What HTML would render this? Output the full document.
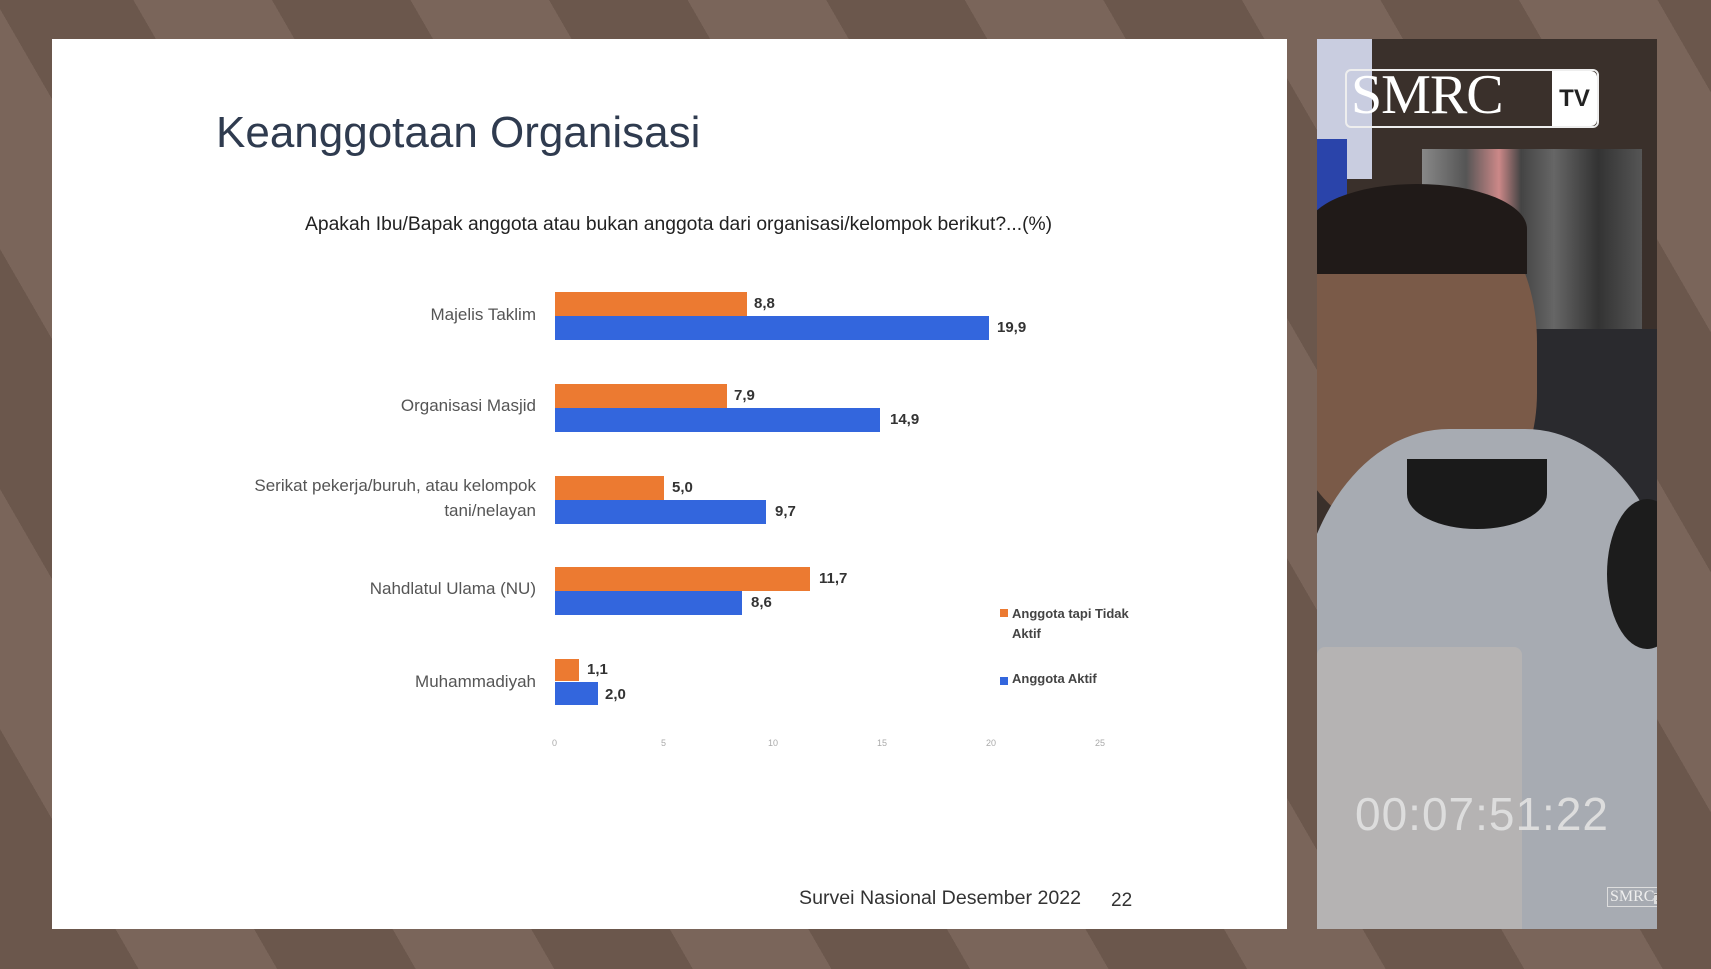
<!DOCTYPE html>
<html><head><meta charset="utf-8"><style>
body{margin:0;width:1711px;height:969px;overflow:hidden;background:#6b574c;font-family:"Liberation Sans",sans-serif;position:relative}
.abs{position:absolute}
.lbl{position:absolute;right:1175px;color:#555;font-size:17px;text-align:right;line-height:25px}
.bar{position:absolute;left:555px;height:24px}
.o{background:#ec7a31}.b{background:#3366dd}
.v{position:absolute;font-size:15px;font-weight:bold;color:#333}
.t{position:absolute;top:738px;font-size:9px;color:#aaa}
</style></head><body>
<div class="abs" style="left:0;top:0;width:1711px;height:969px;background:repeating-linear-gradient(60deg,#6b574c 0 120px,#7a655a 120px 240px)"></div>
<div class="abs" style="left:52px;top:39px;width:1235px;height:890px;background:#fff"></div>
<div class="abs" style="left:216px;top:108px;font-size:44px;color:#2f3b4f">Keanggotaan Organisasi</div>
<div class="abs" style="left:305px;top:214px;font-size:19.3px;color:#222">Apakah Ibu/Bapak anggota atau bukan anggota dari organisasi/kelompok berikut?...(%)</div>

<div class="lbl" style="top:302px">Majelis Taklim</div>
<div class="lbl" style="top:393px">Organisasi Masjid</div>
<div class="lbl" style="top:473px">Serikat pekerja/buruh, atau kelompok<br>tani/nelayan</div>
<div class="lbl" style="top:576px">Nahdlatul Ulama (NU)</div>
<div class="lbl" style="top:669px">Muhammadiyah</div>

<div class="bar o" style="top:292px;width:192px"></div><div class="v" style="left:754px;top:295px">8,8</div>
<div class="bar b" style="top:316px;width:434px"></div><div class="v" style="left:997px;top:319px">19,9</div>
<div class="bar o" style="top:384px;width:172px"></div><div class="v" style="left:734px;top:387px">7,9</div>
<div class="bar b" style="top:408px;width:325px"></div><div class="v" style="left:890px;top:411px">14,9</div>
<div class="bar o" style="top:476px;width:109px"></div><div class="v" style="left:672px;top:479px">5,0</div>
<div class="bar b" style="top:500px;width:211px"></div><div class="v" style="left:775px;top:503px">9,7</div>
<div class="bar o" style="top:567px;width:255px"></div><div class="v" style="left:819px;top:570px">11,7</div>
<div class="bar b" style="top:591px;width:187px"></div><div class="v" style="left:751px;top:594px">8,6</div>
<div class="bar o" style="top:659px;width:24px;height:22px"></div><div class="v" style="left:587px;top:661px">1,1</div>
<div class="bar b" style="top:682px;width:43px;height:23px"></div><div class="v" style="left:605px;top:686px">2,0</div>

<div class="t" style="left:552px">0</div><div class="t" style="left:661px">5</div><div class="t" style="left:768px">10</div>
<div class="t" style="left:877px">15</div><div class="t" style="left:986px">20</div><div class="t" style="left:1095px">25</div>

<div class="abs" style="left:1000px;top:609px;width:8px;height:8px;background:#ec7a31"></div>
<div class="abs" style="left:1012px;top:604px;font-size:13px;color:#444;font-weight:bold;line-height:20px">Anggota tapi Tidak<br>Aktif</div>
<div class="abs" style="left:1000px;top:677px;width:8px;height:8px;background:#3366dd"></div>
<div class="abs" style="left:1012px;top:671px;font-size:13px;color:#444;font-weight:bold">Anggota Aktif</div>

<div class="abs" style="left:799px;top:887px;font-size:19.6px;color:#333">Survei Nasional Desember 2022</div>
<div class="abs" style="left:1111px;top:890px;font-size:19px;color:#333">22</div>

<!-- video panel -->
<div class="abs" style="left:1317px;top:39px;width:340px;height:890px;background:#3a302b;overflow:hidden">
 <div class="abs" style="left:0;top:0;width:55px;height:140px;background:#c9cde0"></div>
 <div class="abs" style="left:0;top:100px;width:30px;height:100px;background:#2a44aa"></div>
 <div class="abs" style="left:105px;top:110px;width:220px;height:200px;background:linear-gradient(90deg,#888 0,#555 20%,#c88 35%,#444 45%,#666 60%,#333 80%,#555 100%)"></div>
 <div class="abs" style="left:210px;top:290px;width:130px;height:200px;background:#2a2a2e"></div>
 <div class="abs" style="left:-30px;top:150px;width:250px;height:340px;border-radius:45% 45% 40% 40%;background:#7a5a48"></div>
 <div class="abs" style="left:-10px;top:145px;width:220px;height:90px;border-radius:50% 50% 0 0;background:#201a18"></div>
 <div class="abs" style="left:-20px;top:390px;width:380px;height:520px;border-radius:40% 40% 0 0;background:#a7abb2"></div>
 <div class="abs" style="left:90px;top:420px;width:140px;height:70px;border-radius:0 0 50% 50%;background:#1a1a1a"></div>
 <div class="abs" style="left:290px;top:460px;width:80px;height:150px;border-radius:50%;background:#1c1c1c"></div>
 <div class="abs" style="left:0;top:608px;width:205px;height:290px;border-radius:8px 8px 0 0;background:#b5b3b3"></div>
 <div class="abs" style="left:28px;top:30px;width:250px;height:55px;border:2px solid #eee;border-radius:6px"></div>
 <div class="abs" style="left:34px;top:24px;font-family:'Liberation Serif',serif;font-size:56px;color:#fff;letter-spacing:-1px">SMRC</div>
 <div class="abs" style="left:235px;top:32px;width:45px;height:55px;background:#fff;border-radius:0 6px 6px 0;font-size:24px;font-weight:bold;color:#222;text-align:center;line-height:55px">TV</div>
 <div class="abs" style="left:38px;top:748px;font-size:46px;color:#ddd;letter-spacing:1px">00:07:51:22</div>
 <div class="abs" style="left:290px;top:848px;font-family:'Liberation Serif',serif;font-size:16px;color:#eee;border:1px solid #ddd;padding:0 2px">SMRC<span style="font-size:10px;background:#ddd;color:#333">TV</span></div>
</div>
</body></html>
